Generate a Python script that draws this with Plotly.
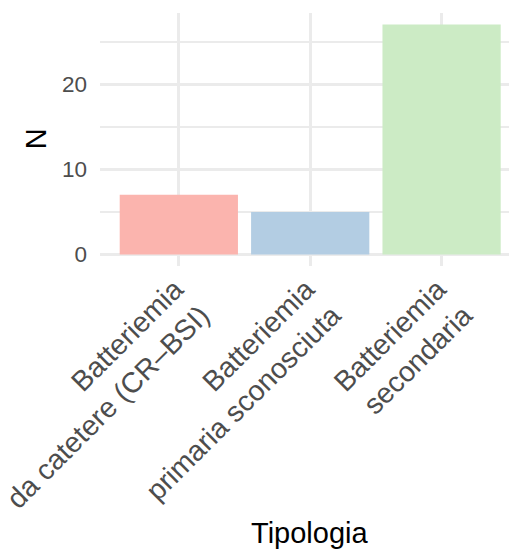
import plotly.graph_objects as go

categories = ["Batteriemia<br>da catetere (CR–BSI)",
              "Batteriemia<br>primaria sconosciuta",
              "Batteriemia<br>secondaria"]
values = [7, 5, 27]
colors = ["#FBB4AE", "#B3CDE3", "#CCEBC5"]
y_ticks = [0, 10, 20]

FONT = "Liberation Sans, Arial, sans-serif"

fig = go.Figure()
fig.add_trace(go.Bar(
    x=list(range(len(categories))), y=values,
    marker=dict(color=colors, line=dict(width=0)),
    width=0.9, showlegend=False,
))

# page body has an 8px default margin, so the figure is shifted by 8px
fig.update_layout(
    width=509, height=552,
    margin=dict(l=92, r=0, t=5, b=293.5),
    paper_bgcolor="white", plot_bgcolor="white",
    font=dict(family=FONT),
    xaxis=dict(
        range=[-0.6, 2.574],
        tickmode="array",
        tickvals=list(range(len(categories))),
        ticktext=categories,
        tickangle=-45,
        tickfont=dict(size=28.5, color="#4D4D4D"),
        ticklabeloverflow="allow",
        ticklabelshift=-4,
        showgrid=True, gridcolor="#EBEBEB", gridwidth=2.5,
        zeroline=False, showline=False, ticks="",
        automargin=False,
    ),
    yaxis=dict(
        range=[-1.35, 28.35],
        tickmode="array",
        tickvals=y_ticks,
        tickfont=dict(size=22.5, color="#4D4D4D"),
        ticklabelstandoff=12,
        showgrid=True, gridcolor="#EBEBEB", gridwidth=2.5,
        minor=dict(tickvals=[5, 15, 25], showgrid=True, gridcolor="#EBEBEB", gridwidth=1.5),
        zeroline=False, showline=False, ticks="",
        automargin=False,
    ),
    annotations=[
        dict(text="Tipologia", xref="paper", yref="paper",
             x=(309 - 100) / 417, y=-(552 - 266.5) / 253.5,
             xanchor="center", yanchor="bottom", showarrow=False,
             font=dict(size=29, color="black", family=FONT)),
        dict(text="N", xref="paper", yref="paper",
             x=-(100 - 35.5) / 417, y=(266.5 - 139) / 253.5,
             xanchor="center", yanchor="middle", textangle=-90, showarrow=False,
             font=dict(size=29, color="black", family=FONT)),
    ],
)

fig.write_html("out.html")
